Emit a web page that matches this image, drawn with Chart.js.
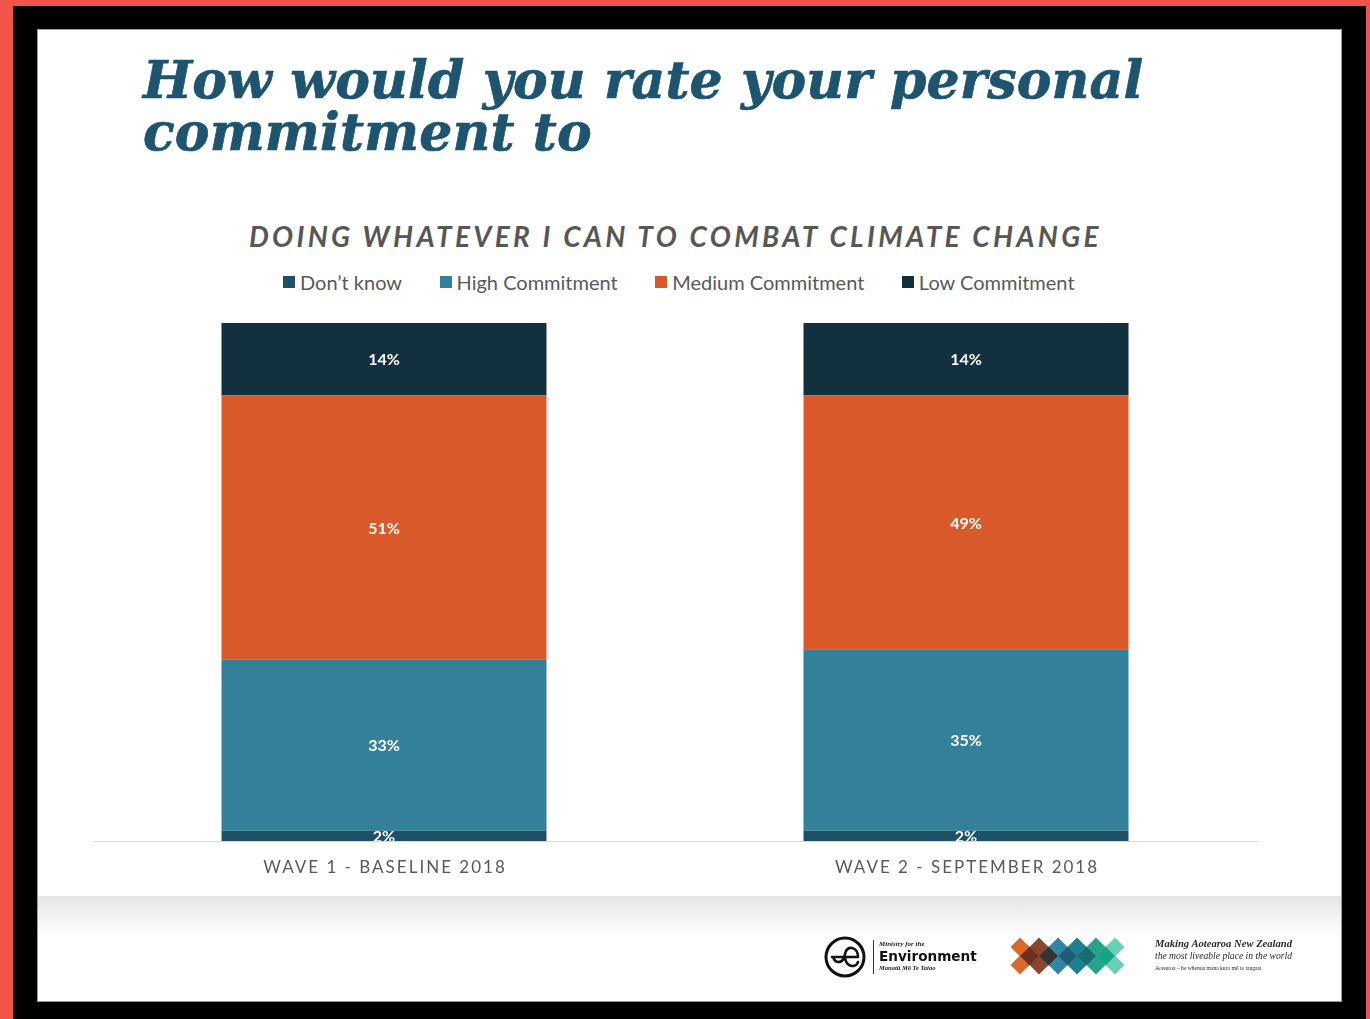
<!DOCTYPE html>
<html>
<head>
<meta charset="utf-8">
<title>Personal commitment to combat climate change</title>
<script src="https://cdn.jsdelivr.net/npm/chart.js@4.4.1/dist/chart.umd.min.js"></script>
<style>
  html, body { margin: 0; padding: 0; }
  body {
    width: 1370px; height: 1019px; position: relative; overflow: hidden;
    background: #F2534A; font-family: Lato, "Open Sans", sans-serif;
  }
  #frame { position: absolute; left: 13px; top: 6px; width: 1353px; height: 1013px; background: #000; }
  #slide {
    position: absolute; left: 37px; top: 29px; width: 1305px; height: 973px;
    background: #fff; box-shadow: inset 0 0 0 1px #9c9c9c;
  }
  #band {
    position: absolute; left: 38px; top: 896px; width: 1303px; height: 42px;
    background: linear-gradient(to bottom, #e6e6e6 0%, #f4f4f4 55%, #ffffff 100%);
  }
  #title {
    position: absolute; left: 143px; top: 54px; margin: 0;
    font: bold italic 52px/52px "DejaVu Serif", serif; color: #1D5470;
    -webkit-text-stroke: 0.7px #1D5470; letter-spacing: 0.15px;
    white-space: nowrap;
  }
  #subtitle {
    position: absolute; left: 249px; top: 219px; margin: 0;
    font: italic 700 28px Lato, sans-serif; color: #575757;
    letter-spacing: 3.3px; white-space: nowrap;
  }
  #legend {
    position: absolute; left: 283px; top: 271px; height: 22px;
    display: flex; align-items: center; gap: 37.5px;
    font: 20px/22px Lato, sans-serif; color: #595959; white-space: nowrap;
  }
  #legend .item { display: flex; align-items: center; gap: 5px; }
  #legend .box { width: 12px; height: 12px; display: inline-block; }
  #chartWrap { position: absolute; left: 37px; top: 300px; width: 1305px; height: 590px; }
  #footer { position: absolute; left: 0; top: 0; }
</style>
</head>
<body>
<div id="frame"></div>
<div id="slide"></div>
<div id="band"></div>

<h1 id="title">How would you rate your personal<br>commitment to</h1>
<div id="subtitle">DOING WHATEVER I CAN TO COMBAT CLIMATE CHANGE</div>
<div id="legend"></div>
<div id="chartWrap"><canvas id="chart"></canvas></div>

<svg id="footer" width="1370" height="1019" xmlns="http://www.w3.org/2000/svg">
  <!-- Ministry for the Environment mark -->
  <circle cx="845" cy="957" r="19" fill="none" stroke="#111" stroke-width="3"/>
  <path d="M832 957 H858 M858 957 C858 946 846 945 845 954 C844 963 836 965 833 957 M845 957 C846 968 856 968 858 962"
        fill="none" stroke="#111" stroke-width="2.6" stroke-linecap="round"/>
  <line x1="873.5" y1="940" x2="873.5" y2="974" stroke="#333" stroke-width="1"/>
  <text x="879" y="946" font-family="Liberation Serif" font-style="italic" font-weight="bold" font-size="7" fill="#222">Ministry for the</text>
  <text x="879" y="961" font-family="DejaVu Sans" font-weight="bold" font-size="13.6" fill="#111">Environment</text>
  <text x="879" y="970" font-family="Liberation Serif" font-style="italic" font-weight="bold" font-size="6.5" fill="#222">Manatū Mō Te Taiao</text>

  <!-- diamond lattice -->
  <g id="lattice"></g>

  <text x="1155" y="947" font-family="Liberation Serif" font-style="italic" font-weight="bold" font-size="10.6" fill="#2a2a2a">Making Aotearoa New Zealand</text>
  <text x="1155" y="959" font-family="Liberation Serif" font-style="italic" font-size="9.6" fill="#2a2a2a">the most liveable place in the world</text>
  <text x="1155" y="970" font-family="Liberation Serif" font-size="5.6" fill="#2a2a2a">Aotearoa – he whenua mana kura mō te tangata</text>
</svg>

<script>
// Survey waves and the share of respondents in each commitment level (%)
const categories = ['WAVE 1 - BASELINE 2018', 'WAVE 2 - SEPTEMBER 2018'];
const seriesNames = ['Don\u2019t know', 'High Commitment', 'Medium Commitment', 'Low Commitment'];
const dontKnow = [2, 2];
const highCommitment = [33, 35];
const mediumCommitment = [51, 49];
const lowCommitment = [14, 14];

const seriesValues = [dontKnow, highCommitment, mediumCommitment, lowCommitment];
const seriesColors = ['#1E5068', '#33809B', '#D9592A', '#13303F'];

// Footer lattice of overlapping diamonds
(function drawLattice() {
  const g = document.getElementById('lattice');
  const ns = 'http://www.w3.org/2000/svg';
  const cols = ['#DB6A2A', '#8A4730', '#3385A6', '#1E7F8E', '#25A38B', '#6CCDB8'];
  const mids = ['#6E2E20', '#333333', '#1C5E78', '#176C70', '#12A585'];
  const diamond = (cx, cy, r, fill) => {
    const p = document.createElementNS(ns, 'polygon');
    p.setAttribute('points', `${cx},${cy - r} ${cx + r},${cy} ${cx},${cy + r} ${cx - r},${cy}`);
    p.setAttribute('fill', fill);
    g.appendChild(p);
  };
  cols.forEach((c, i) => {
    diamond(1020 + i * 19, 947, 9.5, c);
    diamond(1020 + i * 19, 965, 9.5, c);
  });
  mids.forEach((c, i) => diamond(1029.5 + i * 19, 956, 9.5, c));
})();

// Value labels centred in each stacked segment, clipped to the plot area
const segmentLabels = {
  id: 'segmentLabels',
  afterDatasetsDraw(chart) {
    const { ctx, chartArea } = chart;
    ctx.save();
    ctx.beginPath();
    ctx.rect(chartArea.left, chartArea.top, chartArea.right - chartArea.left, chartArea.bottom - chartArea.top);
    ctx.clip();
    ctx.font = 'bold 16px Lato, "Open Sans", sans-serif';
    ctx.fillStyle = '#ffffff';
    ctx.textAlign = 'center';
    ctx.textBaseline = 'middle';
    chart.data.datasets.forEach((ds, di) => {
      chart.getDatasetMeta(di).data.forEach((bar, i) => {
        const y = (bar.y + bar.base) / 2 + 1;
        ctx.fillText(ds.data[i] + '%', bar.x, y);
      });
    });
    ctx.restore();
  }
};

// Letter-spaced category labels under the axis
const spacedCategoryLabels = {
  id: 'spacedCategoryLabels',
  afterDraw(chart) {
    const { ctx, chartArea } = chart;
    const xScale = chart.scales.x;
    const spacing = 2.0;
    ctx.save();
    ctx.font = '17px Lato, "Open Sans", sans-serif';
    ctx.fillStyle = '#595959';
    ctx.textAlign = 'center';
    ctx.textBaseline = 'middle';
    ctx.letterSpacing = spacing + 'px';
    xScale.ticks.forEach((t, i) => {
      ctx.fillText(chart.data.labels[i], xScale.getPixelForTick(i) + spacing / 2, chartArea.bottom + 27);
    });
    ctx.restore();
  }
};

const chart = new Chart(document.getElementById('chart'), {
  type: 'bar',
  data: {
    labels: categories,
    datasets: seriesNames.map((name, k) => ({
      label: name,
      data: seriesValues[k],
      backgroundColor: seriesColors[k],
      borderWidth: 0,
      categoryPercentage: 1,
      barPercentage: 325 / 582
    }))
  },
  options: {
    responsive: true,
    maintainAspectRatio: false,
    animation: false,
    layout: { padding: { top: 23, left: 56, right: 85, bottom: 49 } },
    plugins: {
      legend: { display: false },
      tooltip: { enabled: false },
      title: { display: false }
    },
    scales: {
      x: {
        stacked: true,
        grid: { display: false, drawTicks: false },
        border: { display: true, color: '#D9D9D9', width: 1 },
        ticks: { display: false }
      },
      y: {
        stacked: true,
        display: false,
        min: 0,
        max: 100
      }
    }
  },
  plugins: [segmentLabels, spacedCategoryLabels]
});

// Legend built from the chart's own datasets
(function buildLegend() {
  const legend = document.getElementById('legend');
  chart.data.datasets.forEach(ds => {
    const item = document.createElement('span');
    item.className = 'item';
    const box = document.createElement('span');
    box.className = 'box';
    box.style.background = ds.backgroundColor;
    const text = document.createElement('span');
    text.textContent = ds.label;
    item.appendChild(box);
    item.appendChild(text);
    legend.appendChild(item);
  });
})();
</script>
</body>
</html>
